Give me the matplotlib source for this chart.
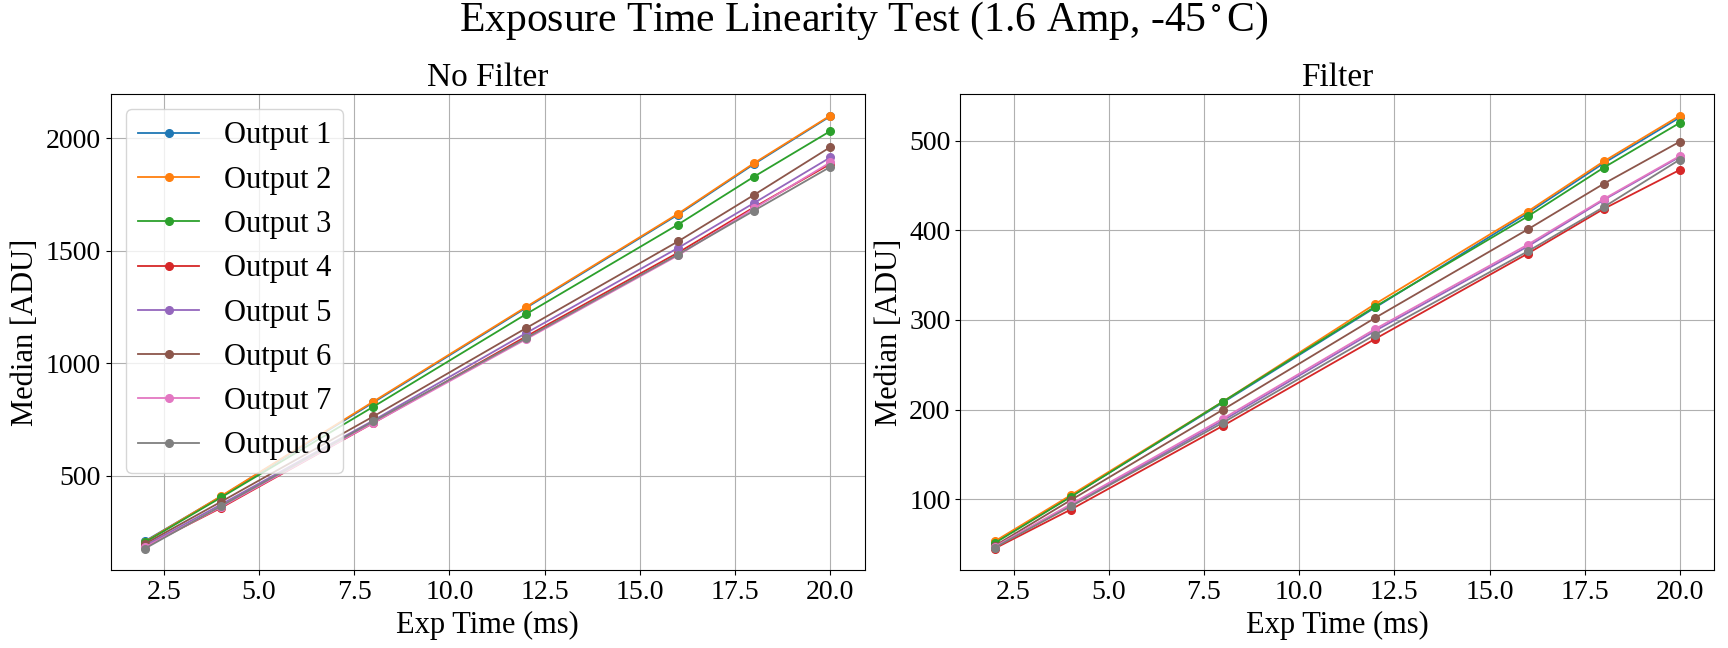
from matplotlib import pyplot as plt
import numpy as np

plt.rcParams['font.family'] = 'serif'
plt.rcParams['font.serif'] = ['Liberation Serif', 'DejaVu Serif']
plt.rcParams['mathtext.fontset'] = 'stix'
plt.rcParams['font.size'] = 22
plt.rcParams['xtick.labelsize'] = 20
plt.rcParams['ytick.labelsize'] = 20

#Exposure times (ms)
exp_time = [2, 4, 8, 12, 16, 18, 20]
labels = ['Output 1', 'Output 2', 'Output 3', 'Output 4',
          'Output 5', 'Output 6', 'Output 7', 'Output 8']

#Median ADU, no filter
nofilt_1 = [210, 408, 826, 1245, 1660, 1885, 2097]
nofilt_2 = [207, 410, 830, 1249, 1664, 1889, 2100]
nofilt_3 = [205, 404, 807, 1217, 1616, 1829, 2031]
nofilt_4 = [185, 358, 735, 1118, 1491, 1693, 1885]
nofilt_5 = [190, 373, 746, 1133, 1512, 1712, 1914]
nofilt_6 = [198, 385, 764, 1155, 1541, 1748, 1960]
nofilt_7 = [183, 362, 735, 1106, 1479, 1688, 1892]
nofilt_8 = [177, 366, 742, 1111, 1483, 1678, 1872]

#Median ADU, with filter
filt_1 = [52, 103, 208, 314, 419, 475, 526]
filt_2 = [53, 104.5, 209, 318, 421, 477, 528]
filt_3 = [51, 102.6, 209, 315, 415.5, 470, 520]
filt_4 = [45, 88.5, 182, 279, 374, 424, 467.5]
filt_5 = [47, 93, 188, 288, 382, 434, 482]
filt_6 = [48, 99, 200, 302.5, 401, 452, 499]
filt_7 = [47, 94.4, 190, 290, 384, 435, 483]
filt_8 = [46, 92, 185.5, 283.6, 376.5, 426, 479]

nofilt = [nofilt_1, nofilt_2, nofilt_3, nofilt_4, nofilt_5, nofilt_6, nofilt_7, nofilt_8]
filt = [filt_1, filt_2, filt_3, filt_4, filt_5, filt_6, filt_7, filt_8]

fig, (ax1, ax2) = plt.subplots(1, 2, figsize=(17.28, 6.48), dpi=100)
fig.subplots_adjust(left=0.064, right=0.992, top=0.855, bottom=0.12, wspace=0.127)

for lab, y in zip(labels, nofilt):
    ax1.plot(exp_time, y, marker='o', markersize=5.5, linewidth=1.3, label=lab)
for lab, y in zip(labels, filt):
    ax2.plot(exp_time, y, marker='o', markersize=5.5, linewidth=1.3, label=lab)

ax1.set_title('No Filter', fontsize=24)
ax2.set_title('Filter', fontsize=24)
for ax in (ax1, ax2):
    ax.set_xlabel('Exp Time (ms)')
    ax.set_ylabel('Median [ADU]')
    ax.grid(True)
ax1.legend(loc='upper left')

fig.suptitle(r'Exposure Time Linearity Test (1.6 Amp, -45$^\circ$C)', fontsize=30, y=1.0)
plt.savefig('out.png', dpi=100)
